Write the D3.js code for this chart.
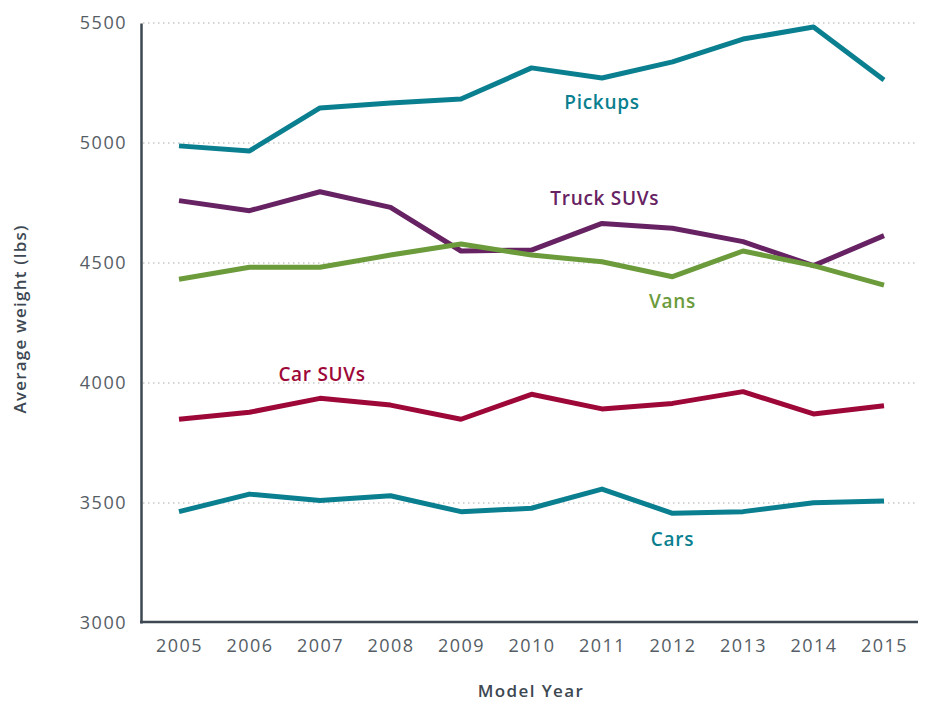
<!DOCTYPE html>
<html>
<head>
<meta charset="utf-8">
<script src="https://cdn.jsdelivr.net/npm/d3@7"></script>
<style>
  body { margin: 0; background: #fff; }
  text { font-family: "Open Sans", Lato, sans-serif; }
</style>
</head>
<body>
<div class="canvas"></div>
<script>
// data
const years = [2005, 2006, 2007, 2008, 2009, 2010, 2011, 2012, 2013, 2014, 2015];
const yTicks = [3000, 3500, 4000, 4500, 5000, 5500];

const pickups   = [4988, 4967, 5146, 5167, 5183, 5313, 5271, 5338, 5433, 5483, 5263];
const truckSuvs = [4760, 4718, 4797, 4732, 4550, 4554, 4665, 4645, 4589, 4489, 4614];
const vans      = [4432, 4482, 4482, 4533, 4579, 4533, 4505, 4443, 4550, 4489, 4408];
const carSuvs   = [3849, 3878, 3936, 3908, 3849, 3953, 3892, 3915, 3964, 3871, 3905];
const cars      = [3464, 3537, 3510, 3530, 3464, 3478, 3558, 3457, 3464, 3501, 3508];

const seriesNames = ['Pickups', 'Truck SUVs', 'Vans', 'Car SUVs', 'Cars'];
// label anchors (year, value) for the inline series labels
const labelAt = [[2011.0, 5142], [2011.04, 4742], [2012.0, 4312], [2007.03, 4008], [2012.0, 3321]];

const colors = ['#0a7f8f', '#662262', '#6b9b3b', '#9e0838', '#0a7f8f'];

const dims = { width: 927, height: 704 };

const svg = d3.select('.canvas')
    .append('svg')
    .attr('width', dims.width)
    .attr('height', dims.height);

const x = d3.scaleLinear().domain([2005, 2015]).range([179, 884]);
const y = d3.scaleLinear().domain([3000, 5500]).range([623, 23]);

// dotted gridlines
svg.append('g')
    .selectAll('line')
    .data(yTicks.slice(1))
    .enter().append('line')
        .attr('x1', 143)
        .attr('x2', 918)
        .attr('y1', d => y(d))
        .attr('y2', d => y(d))
        .attr('stroke', '#c8c8c8')
        .attr('stroke-width', 1.3)
        .attr('stroke-dasharray', '1.5,3.5');

// y axis
const yAxis = d3.axisLeft(y).tickValues(yTicks).tickFormat(d3.format('d')).tickSize(0).tickPadding(14);
const yG = svg.append('g')
    .attr('transform', 'translate(141,0)')
    .call(yAxis);
yG.select('.domain').attr('stroke', '#3d4852').attr('stroke-width', 2.5);
yG.selectAll('text')
    .attr('fill', '#555d65')
    .style('font-size', '18px')
    .style('letter-spacing', '1.5px');

// x axis
const xAxis = d3.axisBottom(x).tickValues(years).tickFormat(d3.format('d')).tickSize(0).tickPadding(17);
const xG = svg.append('g')
    .attr('transform', 'translate(0,622)')
    .call(xAxis);
xG.select('.domain').attr('d', 'M140,0H918').attr('stroke', '#3d4852').attr('stroke-width', 2.5);
xG.selectAll('text')
    .attr('fill', '#555d65')
    .style('font-size', '18px')
    .style('letter-spacing', '1.5px');

// axis titles
svg.append('text')
    .attr('x', 531)
    .attr('y', 697)
    .attr('text-anchor', 'middle')
    .attr('fill', '#3d4852')
    .style('font-size', '17px')
    .style('font-weight', 600)
    .style('letter-spacing', '1.4px')
    .text('Model Year');

svg.append('text')
    .attr('transform', 'translate(26,319) rotate(-90)')
    .attr('text-anchor', 'middle')
    .attr('fill', '#3d4852')
    .style('font-size', '17px')
    .style('font-weight', 600)
    .style('letter-spacing', '1.2px')
    .text('Average weight (lbs)');

// lines
const series = [pickups, truckSuvs, vans, carSuvs, cars];
const line = d3.line()
    .x((d, i) => x(years[i]))
    .y(d => y(d));

svg.append('g')
    .selectAll('path')
    .data(series)
    .enter().append('path')
        .attr('d', line)
        .attr('fill', 'none')
        .attr('stroke', (d, i) => colors[i])
        .attr('stroke-width', 5)
        .attr('stroke-linejoin', 'round');

// inline labels
svg.append('g')
    .selectAll('text')
    .data(seriesNames)
    .enter().append('text')
        .attr('x', (d, i) => x(labelAt[i][0]))
        .attr('y', (d, i) => y(labelAt[i][1]))
        .attr('text-anchor', 'middle')
        .attr('fill', (d, i) => colors[i])
        .style('font-size', '19px')
        .style('font-weight', 600)
        .style('letter-spacing', '0.7px')
        .text(d => d);
</script>
</body>
</html>
